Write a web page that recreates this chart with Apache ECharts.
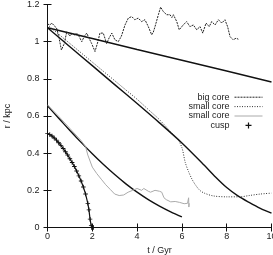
<!DOCTYPE html>
<html>
<head>
<meta charset="utf-8">
<script src="https://cdn.jsdelivr.net/npm/echarts@6/dist/echarts.min.js"></script>
<style>
html, body { margin: 0; padding: 0; background: #fff; }
#chart { width: 273px; height: 255px; }
</style>
</head>
<body>
<div id="chart"></div>
<script>
// axis ticks
var xTicks = [0, 2, 4, 6, 8, 10];
var yTicks = [0, 0.2, 0.4, 0.6, 0.8, 1, 1.2];

// big core (dashed, noisy) [t, r]
var bigCore = [
    [0, 1.095], [0.1, 1.09], [0.2, 1.1], [0.3, 1.085], [0.4, 1.075], [0.5, 1.03], [0.62, 0.955],
    [0.75, 0.99], [0.86, 1.054], [1.0, 1.03], [1.1, 1.045], [1.2, 1.035], [1.3, 1.046], [1.4, 1.03],
    [1.53, 1.0], [1.65, 1.03], [1.75, 1.046], [1.85, 1.02], [1.97, 0.99], [2.12, 0.947], [2.25, 1.0],
    [2.34, 1.046], [2.49, 1.046], [2.64, 0.99], [2.75, 1.02], [2.87, 1.046], [3.01, 1.01], [3.16, 1.0],
    [3.3, 1.03], [3.46, 1.09], [3.61, 1.127], [3.76, 1.135], [3.9, 1.118], [4.05, 1.127], [4.2, 1.108],
    [4.35, 1.118], [4.5, 1.081], [4.65, 1.037], [4.72, 1.05], [4.8, 1.081], [4.95, 1.145], [5.05, 1.186],
    [5.17, 1.162], [5.32, 1.145], [5.47, 1.145], [5.55, 1.13], [5.62, 1.145], [5.77, 1.108], [5.88, 1.064],
    [6.06, 1.09], [6.21, 1.108], [6.36, 1.081], [6.51, 1.09], [6.66, 1.064], [6.81, 1.081], [6.93, 1.046],
    [7.08, 1.1], [7.22, 1.081], [7.33, 1.108], [7.48, 1.09], [7.63, 1.118], [7.78, 1.1], [7.92, 1.118],
    [8.04, 1.081], [8.15, 1.027], [8.29, 1.01], [8.42, 1.019], [8.52, 1.013]
];

// small core, dotted
var smallCoreA = [
    [0, 1.09], [0.5, 1.04], [1, 0.99], [1.5, 0.94], [2, 0.89], [2.5, 0.84], [3, 0.79], [3.5, 0.74],
    [4, 0.69], [4.5, 0.635], [5, 0.58], [5.5, 0.515], [5.8, 0.478], [6.0, 0.43], [6.15, 0.35],
    [6.3, 0.3], [6.45, 0.26], [6.6, 0.23], [6.8, 0.2], [7.0, 0.185], [7.4, 0.17], [8.0, 0.165],
    [8.6, 0.165], [9.0, 0.172], [9.5, 0.18], [10, 0.185]
];

// small core, grey
var smallCoreB = [
    [0, 0.66], [0.5, 0.598], [1, 0.533], [1.5, 0.468], [1.7, 0.435], [1.8, 0.39], [2.0, 0.325],
    [2.2, 0.29], [2.4, 0.26], [2.6, 0.23], [2.8, 0.205], [3.0, 0.18], [3.2, 0.172], [3.4, 0.175],
    [3.6, 0.19], [3.8, 0.2], [4.0, 0.21], [4.2, 0.2], [4.3, 0.21], [4.5, 0.195], [4.6, 0.19],
    [4.8, 0.2], [5.0, 0.195], [5.1, 0.19], [5.2, 0.16], [5.3, 0.15], [5.5, 0.138], [5.7, 0.14],
    [5.9, 0.135], [6.1, 0.128], [6.25, 0.13], [6.3, 0.16], [6.31, 0.11], [6.33, 0.13]
];

// cusp (with + markers)
var cusp = [
    [0, 0.505], [0.1, 0.5], [0.2, 0.492], [0.3, 0.482], [0.4, 0.47], [0.5, 0.456], [0.6, 0.442],
    [0.7, 0.425], [0.8, 0.408], [0.9, 0.39], [1.0, 0.37], [1.1, 0.35], [1.2, 0.328], [1.3, 0.304],
    [1.4, 0.278], [1.5, 0.25], [1.6, 0.218], [1.7, 0.18], [1.8, 0.13], [1.85, 0.095], [1.9, 0.045],
    [1.95, 0.01], [1.97, 0], [2.0, 0], [2.05, 0]
];

// analytic curves (solid)
var modelA = [[0, 1.075], [2, 1.017], [4, 0.958], [6, 0.9], [8, 0.842], [10, 0.783]];
var modelB = [
    [0, 1.075], [1, 0.973], [2, 0.871], [3, 0.769], [4, 0.667], [5, 0.563], [6, 0.455],
    [7, 0.335], [7.5, 0.272], [8, 0.215], [8.5, 0.17], [9, 0.135], [9.5, 0.103], [10, 0.077]
];
var modelC = [
    [0, 0.655], [0.5, 0.588], [1, 0.522], [1.5, 0.458], [2, 0.397], [2.5, 0.339], [3, 0.285],
    [3.5, 0.235], [4, 0.19], [4.5, 0.15], [5, 0.115], [5.5, 0.084], [6, 0.057]
];

var ink = '#111';
var font = 'Liberation Sans';
var plus = 'path://M4,0H6V4H10V6H6V10H4V6H0V4H4Z';

var chart = echarts.init(document.getElementById('chart'));

function axisX(pos, labels) {
    return {
        type: 'value', position: pos, min: 0, max: 10, interval: 2,
        axisLine: {show: true, lineStyle: {color: ink, width: 1}},
        axisTick: {show: true, inside: true, length: 4, lineStyle: {color: ink}},
        axisLabel: {show: labels, margin: 5, color: '#222', fontSize: 9, fontFamily: font},
        splitLine: {show: false},
        name: labels ? 't / Gyr' : '', nameLocation: 'middle', nameGap: 16,
        nameTextStyle: {color: '#222', fontSize: 9, fontFamily: font}
    };
}
function axisY(pos, labels) {
    return {
        type: 'value', position: pos, min: 0, max: 1.2, interval: 0.2,
        axisLine: {show: true, lineStyle: {color: ink, width: 1}},
        axisTick: {show: true, inside: true, length: 4, lineStyle: {color: ink}},
        axisLabel: {show: labels, margin: 8, color: '#222', fontSize: 9, fontFamily: font,
            formatter: function (v) { return String(Math.round(v * 10) / 10); }},
        splitLine: {show: false},
        name: labels ? 'r / kpc' : '', nameLocation: 'middle', nameGap: 35,
        nameTextStyle: {color: '#222', fontSize: 9, fontFamily: font}
    };
}

var option = {
    animation: false,
    grid: {left: 47.5, right: 1.5, top: 4.5, bottom: 27.5, outerBoundsMode: 'none'},
    xAxis: [axisX('bottom', true), axisX('top', false)],
    yAxis: [axisY('left', true), axisY('right', false)],
    legend: {
        orient: 'vertical', align: 'right', right: 10, top: 92.5, padding: 0,
        itemWidth: 28, itemHeight: 6, itemGap: 0,
        textStyle: {fontSize: 9, fontFamily: font, color: '#222', lineHeight: 9.4},
        lineStyle: {width: 1},
        data: [
            {name: 'big core', itemStyle: {opacity: 0}},
            {name: 'small core', itemStyle: {opacity: 0}},
            {name: 'small core\u200b', itemStyle: {opacity: 0}},
            {name: 'cusp', icon: plus}
        ]
    },
    series: [
        {name: 'model A', type: 'line', data: modelA, symbol: 'none',
            lineStyle: {color: ink, width: 1.4}, itemStyle: {color: ink}},
        {name: 'model B', type: 'line', data: modelB, symbol: 'none', smooth: 0.3,
            lineStyle: {color: ink, width: 1.4}, itemStyle: {color: ink}},
        {name: 'model C', type: 'line', data: modelC, symbol: 'none', smooth: 0.3,
            lineStyle: {color: ink, width: 1.4}, itemStyle: {color: ink}},
        {name: 'big core', type: 'line', data: bigCore, symbol: 'none',
            lineStyle: {color: '#222', width: 1, type: [2, 1]}, itemStyle: {color: '#222'}},
        {name: 'small core', type: 'line', data: smallCoreA, symbol: 'none', smooth: 0.3,
            lineStyle: {color: '#333', width: 1, type: [1, 1.5]}, itemStyle: {color: '#333'}},
        {name: 'small core\u200b', type: 'line', data: smallCoreB, symbol: 'none',
            lineStyle: {color: '#aaa', width: 1}, itemStyle: {color: '#aaa'}},
        {name: 'cusp', type: 'line', data: cusp, symbol: plus, symbolSize: 4.5,
            lineStyle: {color: ink, width: 1.2}, itemStyle: {color: ink}}
    ]
};
chart.setOption(option);
</script>
</body>
</html>
